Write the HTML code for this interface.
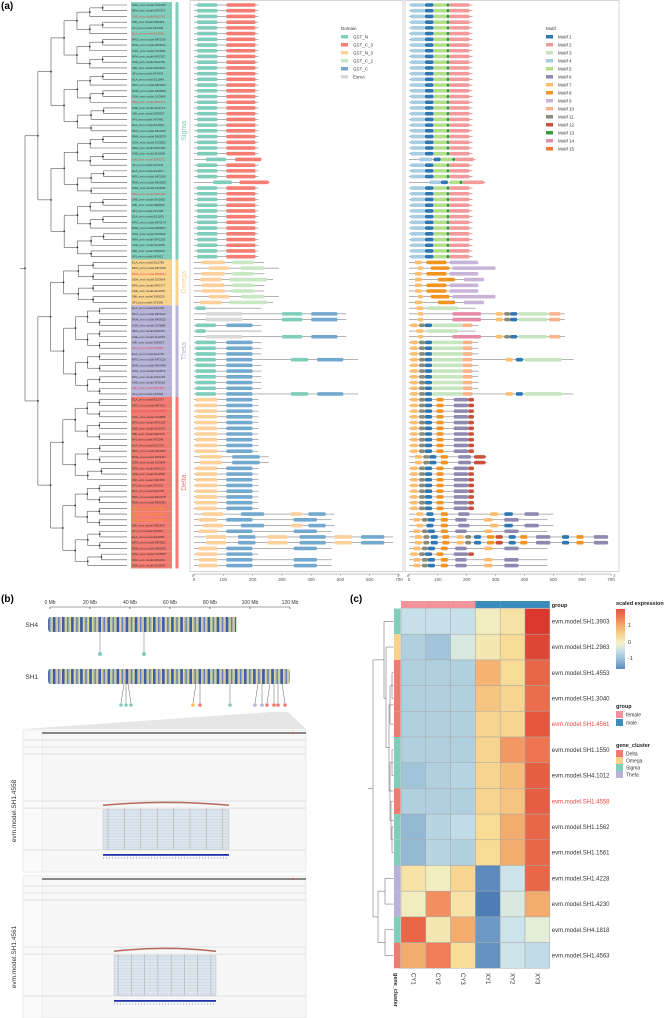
<!DOCTYPE html>
<html><head><meta charset="utf-8"><style>
html,body{margin:0;padding:0;background:#fff}
svg{display:block;font-family:"Liberation Sans",sans-serif}
</style></head><body>
<svg id="fig" width="665" height="1018" viewBox="0 0 665 1018" xmlns="http://www.w3.org/2000/svg"></svg>
<script>
// ---------- Panel (a) data ----------
const cladeNames = ['Sigma','Omega','Theta','Delta'];
const cladeCounts = [45, 8, 16, 30];
const cladeColors = ['#7fcdbb','#f9d38b','#b7b3d8','#f27a70'];
const rowCodes = [].concat(
  Array(27).fill('S'),['S2'],Array(3).fill('S'),['S3'],Array(13).fill('S'),
  ['O','O2','O','O3','O','O','O2','O3'],
  ['T0','TE','TE','T','T0','TE','T','T','T','TL','T','T','T','T','T','TL'],
  Array(10).fill('D'),['D2','D2','D','D','D','D','D','D','D','D','DA','DB','DA','DB','DC','DC','DB','D','DB','DB']
);
const redRows = [2,5,17,27,33,47,60,67,71];
const orangeRows = [88,89,90];
const domainNames = ['GST_N','GST_C_3','GST_N_3','GST_C_2','GST_C','EsmA'];
const domainColors = ['#7fcdbb','#f57d74','#fdd09c','#c7e8c3','#74a9cf','#d9d9d9'];
const domainTpl = {
  S:[220,[0,10,80],[1,110,210]], S2:[230,[0,40,110],[1,140,230]], S3:[260,[0,65,130],[1,155,255]],
  O:[240,[2,25,105],[3,130,205]], O2:[290,[2,50,120],[3,160,240]], O3:[270,[2,20,95],[3,120,250]],
  T0:[230,[0,5,40]], TE:[520,[5,40,165],[0,300,370],[4,400,490]], T:[230,[0,5,75],[4,110,200]],
  TL:[560,[0,5,75],[4,110,200],[0,330,390],[4,420,510]],
  D:[220,[2,5,80],[4,110,200]], D2:[255,[2,20,95],[4,130,225]],
  DA:[480,[2,30,100],[4,160,240],[2,330,370],[4,390,450]],
  DB:[470,[2,15,80],[4,110,200],[4,340,420]],
  DC:[680,[2,40,110],[4,150,210],[2,250,320],[4,360,450],[2,480,540],[4,570,650]]
};
const motifNames = ['Motif 1','Motif 2','Motif 3','Motif 4','Motif 5','Motif 6','Motif 7','Motif 8','Motif 9','Motif 10','Motif 11','Motif 12','Motif 13','Motif 14','Motif 15'];
const motifColors = ['#2f78b4','#f59a9b','#c6e6c0','#a6cde3','#b2df8a','#8e89b0','#fdbf6f','#f39320','#c9b3d8','#fbb48a','#8a8a78','#c6513c','#3b9a3b','#e78aa6','#f77a2a'];
// motif numbers are 1-based
const motifTpl = {
  S:[220,[4,5,55],[1,55,85],[5,85,130],[13,130,140],[2,140,210]],
  S2:[230,[4,35,80],[1,85,110],[5,110,150],[13,150,160],[2,160,225]],
  S3:[265,[4,70,110],[1,110,135],[5,140,175],[13,175,185],[2,185,260]],
  O:[240,[7,20,45],[8,60,130],[9,140,240]], O2:[300,[7,30,50],[8,75,140],[9,150,300]], O3:[260,[7,20,45],[8,100,160],[9,190,260]],
  T0:[230,[7,25,50],[3,60,170]], TE:[540,[7,30,50],[14,150,250],[7,300,325],[11,330,350],[1,350,375],[3,380,480],[10,485,525]],
  T:[240,[7,5,30],[11,35,55],[1,55,80],[3,80,185],[10,185,220]],
  TL:[570,[7,5,30],[11,35,55],[1,55,80],[3,80,185],[10,185,220],[7,335,360],[1,370,395],[3,400,530]],
  D:[225,[7,5,30],[11,35,55],[1,55,80],[8,95,120],[6,155,205],[12,205,225]],
  D2:[270,[7,20,45],[11,50,70],[1,70,95],[8,110,135],[6,170,215],[12,225,265]],
  DA:[500,[7,25,50],[1,60,85],[8,110,135],[6,170,210],[7,280,310],[1,330,360],[6,400,450]],
  DB:[480,[7,15,40],[11,45,65],[1,65,90],[8,110,135],[6,160,200],[7,260,290],[6,330,380]],
  DC:[690,[7,20,45],[11,50,70],[1,75,100],[8,115,140],[7,165,190],[11,195,215],[1,225,250],[8,270,295],[12,300,325],[1,345,370],[8,385,410],[6,440,490],[1,530,555],[8,580,605],[6,640,690]]
};

// ---------- Panel (c) data ----------
const hmCols = ['CY1','CY2','CY3','XY1','XY2','XY3'];
const hmGroups = ['female','female','female','male','male','male'];
const hmRows = ['evm.model.SH1.3903','evm.model.SH1.2963','evm.model.SH1.4553','evm.model.SH1.3040','evm.model.SH1.4561','evm.model.SH1.1550','evm.model.SH4.1012','evm.model.SH1.4558','evm.model.SH1.1562','evm.model.SH1.1561','evm.model.SH1.4228','evm.model.SH1.4230','evm.model.SH4.1818','evm.model.SH1.4563'];
const hmCluster = ['Sigma','Omega','Delta','Delta','Delta','Sigma','Sigma','Delta','Sigma','Sigma','Theta','Theta','Sigma','Delta'];
const hmRed = [4,7];
const hmValues = [
  [-0.4,-0.4,-0.4,0.1,0.3,2.4],
  [-0.8,-0.9,-0.2,0.2,0.4,2.2],
  [-0.8,-0.8,-0.8,0.9,0.4,1.8],
  [-0.8,-0.8,-0.8,0.7,0.5,1.7],
  [-0.8,-0.8,-0.8,0.5,0.5,2.0],
  [-0.8,-0.8,-0.8,0.5,1.2,1.6],
  [-0.9,-0.8,-0.7,0.5,0.8,1.9],
  [-0.8,-0.8,-0.8,0.5,0.7,1.9],
  [-1.0,-0.7,-0.5,0.4,1.0,1.8],
  [-1.0,-0.7,-0.8,0.4,1.0,1.8],
  [0.3,0.1,0.5,-1.5,-0.3,1.8],
  [0.1,1.3,0.3,-1.7,-0.2,1.0],
  [1.8,0.2,1.0,-1.3,-0.3,-0.1],
  [1.0,1.5,0.4,-1.4,-0.3,-0.5]
];
const clusterLegend = ['Delta','Omega','Sigma','Theta'];
const clusterLegendColors = ['#f27a70','#f9d38b','#7fcdbb','#b7b3d8'];

// ---------- Panel (b) data ----------
const mbTicks = [0,20,40,60,80,100,120];
const sh4Hits = [25,47];
const sh1Hits = [37,38,39,73,75,90,104,106,110,112,114,116];
const sh1HitColors = ['#7fcdbb','#7fcdbb','#7fcdbb','#f9c35b','#f27a70','#7fcdbb','#b7b3d8','#b7b3d8','#f27a70','#f27a70','#f27a70','#f27a70'];

const NS='http://www.w3.org/2000/svg';
const svg=document.getElementById('fig');
function mk(tag,attrs,parent){const e=document.createElementNS(NS,tag);for(const k in attrs)e.setAttribute(k,attrs[k]);(parent||svg).appendChild(e);return e;}
function txt(s,attrs,parent){const e=mk('text',attrs,parent);e.textContent=s;return e;}

// ======== PANEL A ========
const gA=mk('g',{});


const la=txt('(a)',{x:1,y:9,'font-size':10,'font-weight':'bold'},gA);


const N=rowCodes.length;
const rowY=i=>5+i*5.72;
const cladeOf=[];cladeCounts.forEach((c,ci)=>{for(let k=0;k<c;k++)cladeOf.push(ci);});

const gT=mk('g',{stroke:'#555','stroke-width':0.6,fill:'none'},gA);


const leafX=127;
function build(lo,hi,x){
  if(lo===hi){return rowY(lo);}
  const n=hi-lo+1;
  let mid=Math.floor((lo+hi)/2);
  const bounds=[44,52,68];
  for(const b of bounds){if(b>=lo&&b<hi&&Math.abs(b-mid)<n*0.35){mid=b;break;}}
  const step=Math.max(3,(leafX-x)/(Math.log2(n)+1.3));
  const cx=x+step;
  const y1=build(lo,mid,lo===mid?leafX:cx);
  const y2=build(mid+1,hi,mid+1===hi?leafX:cx);
  mk('line',{x1:x,x2:x,y1:y1,y2:y2},gT);
  mk('line',{x1:x,x2:(lo===mid?leafX:cx),y1:y1,y2:y1},gT);
  mk('line',{x1:x,x2:(mid+1===hi?leafX:cx),y1:y2,y2:y2},gT);
  mk('circle',{cx:x,cy:(y1+y2)/2,r:0.9,fill:'#222',stroke:'none'},gT);
  return (y1+y2)/2;
}
const rootY=build(0,N-1,25);
mk('line',{x1:20,x2:25,y1:rootY,y2:rootY},gT);

for(let i=0;i<N;i++){
  const c=cladeOf[i];
  const r=mk('rect',{x:131,y:rowY(i)-2.86,width:41,height:5.72,fill:cladeColors[c]},gA);
  
  
  const col=redRows.includes(i)?'#e8473f':orangeRows.includes(i)?'#f7a800':'#333';
  const pre=['SOH','MFA','SHE','SMI','AFI','ELA','MFO','RMA'][i%8];
  const t=txt(pre+'_evm.model.'+pre.slice(0,2)+(1000+(i*373)%3000),{x:132,y:rowY(i)+1,'font-size':2.9,fill:col},gA);
  
  
}
let start=0;
cladeCounts.forEach((c,ci)=>{
  const y0=rowY(start)-2.86,h=c*5.72;
  const b=mk('rect',{x:175.5,y:y0,width:3,height:h,fill:cladeColors[ci]},gA);
  
  
  const cy=y0+h/2;
  const t=txt(cladeNames[ci],{x:0,y:0,'font-size':7,fill:cladeColors[ci],transform:`translate(186,${cy}) rotate(-90)`,'text-anchor':'middle'},gA);
  
  
  start+=c;
});

function structPanel(name,x0,x1,ax0,ax1,tpls,colors,legendNames,legendX,idxOffset){
  const g=mk('g',{},gA);
  
  
  const fr=mk('rect',{x:x0,y:0.5,width:x1-x0,height:571,fill:'none',stroke:'#ccc','stroke-width':0.8},g);
  
  
  const sx=v=>ax0+v*(ax1-ax0)/700;
  for(let i=0;i<N;i++){
    const t=tpls[rowCodes[i]];const y=rowY(i);
    mk('line',{x1:sx(0),x2:sx(t[0]),y1:y,y2:y,stroke:'#666','stroke-width':0.5},g);
    for(let k=1;k<t.length;k++){
      const [d,a,b]=t[k];
      const r=mk('rect',{x:sx(a),y:y-1.8,width:sx(b)-sx(a),height:3.6,rx:1.5,fill:colors[d-idxOffset]},g);
      
      
    }
  }
  mk('line',{x1:sx(0),x2:sx(700),y1:574,y2:574,stroke:'#888','stroke-width':0.5},g);
  for(let v=0;v<=700;v+=100){
    mk('line',{x1:sx(v),x2:sx(v),y1:574,y2:576,stroke:'#888','stroke-width':0.5},g);
    const tl=txt(String(v),{x:sx(v),y:581,'font-size':4.5,'text-anchor':'middle',fill:'#555'},g);
    
    
  }
  txt("5'",{x:x0+2,y:577,'font-size':3.5,fill:'#555'},g);
  txt("3'",{x:x1-6,y:577,'font-size':3.5,fill:'#555'},g);
  const lg=mk('g',{},g);
  
  
  txt(name==='domain-panel'?'Domain':'Motif',{x:legendX,y:30,'font-size':4.5,fill:'#333'},lg);
  legendNames.forEach((n,k)=>{
    const yy=35+k*8;
    const sw=mk('rect',{x:legendX,y:yy,width:7,height:3.5,fill:colors[k]},lg);
    
    
    const lt=txt(n,{x:legendX+12,y:yy+3.3,'font-size':4.5,fill:'#333'},lg);
    
    
  });
}
structPanel('domain-panel',190,403,194,399,domainTpl,domainColors,domainNames,341,0);
structPanel('motif-panel',405,619,409,611,motifTpl,motifColors,motifNames,546,1);

// ======== PANEL B ========
const gB=mk('g',{});


const lb=txt('(b)',{x:1,y:602,'font-size':10,'font-weight':'bold'},gB);


const mbx=v=>50+v*2;
mk('line',{x1:mbx(0),x2:mbx(120),y1:607,y2:607,stroke:'#444','stroke-width':0.6},gB);
mbTicks.forEach(v=>{
  mk('line',{x1:mbx(v),x2:mbx(v),y1:607,y2:609,stroke:'#444','stroke-width':0.6},gB);
  const t=txt(v+' Mb',{x:mbx(v),y:604,'font-size':5,'text-anchor':'middle',fill:'#333'},gB);
  
  
});
function chrom(name,y,len){
  const g=mk('g',{},gB);
  
  
  mk('rect',{x:48,y:y,width:mbx(len)-48,height:15,rx:3,fill:'#4d6eae'},g);
  const pal=['#5b7fbf','#c9c9a0','#3c5ea5','#8fa7c9','#e2d7a0','#6f8cc0','#4466aa'];
  for(let k=0;k*1.3<mbx(len)-50;k++){
    mk('rect',{x:49+k*1.3,y:y,width:1.3,height:15,fill:pal[(k*7+k*k)%7]},g);
  }
  const t=txt(name,{x:38,y:y+10,'font-size':6.5,'text-anchor':'end',fill:'#333'},g);
  
  
}
chrom('SH4',617,93);
chrom('SH1',669,120);
sh4Hits.forEach(v=>{
  mk('line',{x1:mbx(v),x2:mbx(v),y1:632,y2:652,stroke:'#888','stroke-width':0.6},gB);
  const c=mk('circle',{cx:mbx(v),cy:654,r:2,fill:'#7fcdbb'},gB);
  
  
});
sh1Hits.forEach((v,k)=>{
  const cx=mbx(v)+((k===0||k===3||k===6||k===8)?-3:(k===2||k===11)?3:0);
  mk('line',{x1:mbx(v),x2:cx,y1:684,y2:703,stroke:'#666','stroke-width':0.5},gB);
  const c=mk('circle',{cx:cx,cy:705,r:1.8,fill:sh1HitColors[k]},gB);
  
  
});
mk('polygon',{points:'23,729 306,729 288,712 272,712',fill:'#e6e6e6'},gB);
function igv(y0,h,label,blockX0,blockX1){
  const g=mk('g',{},gB);
  
  
  mk('rect',{x:23,y:y0,width:283,height:h,fill:'#f7f7f7',stroke:'#ddd','stroke-width':0.5},g);
  mk('rect',{x:23,y:y0,width:19,height:h,fill:'#fafafa',stroke:'#ddd','stroke-width':0.4},g);
  mk('rect',{x:42,y:y0+2,width:264,height:2,fill:'#888'},g);
  mk('circle',{cx:293,cy:y0+3,r:0.8,fill:'#e33'},g);
  [y0+10,y0+17,y0+24,y0+h*0.5,y0+h*0.55,y0+h-22].forEach(yy=>mk('line',{x1:23,x2:306,y1:yy,y2:yy,stroke:'#ccc','stroke-width':0.5},g));
  mk('path',{d:`M${blockX0},${y0+h*0.53} Q${(blockX0+blockX1)/2},${y0+h*0.49} ${blockX1},${y0+h*0.53}`,stroke:'#b5695a','stroke-width':1.5,fill:'none'},g);
  const rb=mk('rect',{x:blockX0,y:y0+h*0.56,width:blockX1-blockX0,height:h*0.28,fill:'#dde6ee',stroke:'#aab','stroke-width':0.3},g);
  
  
  for(let k=0;k<14;k++){mk('line',{x1:blockX0,x2:blockX1,y1:y0+h*0.57+k*h*0.02,y2:y0+h*0.57+k*h*0.02,stroke:'#b8c8d8','stroke-width':0.3},g);}
  for(let k=0;k<8;k++){const xx=blockX0+(blockX1-blockX0)*(k*0.13+0.04);mk('line',{x1:xx,x2:xx,y1:y0+h*0.55,y2:y0+h*0.84,stroke:'#999','stroke-width':0.4},g);}
  mk('rect',{x:blockX0,y:y0+h-18,width:blockX1-blockX0,height:1.8,fill:'#2233aa'},g);
  mk('line',{x1:blockX0,x2:blockX1,y1:y0+h-14,y2:y0+h-14,stroke:'#2233aa','stroke-width':0.5,'stroke-dasharray':'1,2'},g);
  const t=txt(label,{x:0,y:0,'font-size':6.5,fill:'#333','text-anchor':'middle',transform:`translate(16,${y0+h/2+10}) rotate(-90)`},g);
  
  
}
igv(730,142,'evm.model.SH1.4558',103,229);
igv(876,142,'evm.model.SH1.4561',114,216);

// ======== PANEL C ========
const gC=mk('g',{});


const lc=txt('(c)',{x:350,y:602,'font-size':10,'font-weight':'bold'},gC);


const hx0=401,cw=24.8,hy0=608.5,rh=25.7;
const stops=[[-1.8,[69,117,180]],[-1.2,[116,160,200]],[-0.8,[176,208,224]],[-0.3,[205,228,235]],[0,[240,242,205]],[0.4,[248,220,150]],[0.9,[245,180,115]],[1.5,[240,125,85]],[2.5,[215,48,39]]];
function colorOf(v){
  if(v<=stops[0][0])return `rgb(${stops[0][1]})`;
  for(let k=1;k<stops.length;k++){if(v<=stops[k][0]){const [a,ca]=stops[k-1],[b,cb]=stops[k];const t=(v-a)/(b-a);return 'rgb('+ca.map((c,j)=>Math.round(c+(cb[j]-c)*t)).join(',')+')';}}
  return `rgb(${stops[stops.length-1][1]})`;
}
hmCols.forEach((c,j)=>{
  const r=mk('rect',{x:hx0+j*cw,y:601,width:cw,height:7,fill:hmGroups[j]==='female'?'#f0939b':'#3b8bbb'},gC);
  
  
  const t=txt(c,{x:0,y:0,'font-size':6,fill:'#333',transform:`translate(${hx0+j*cw+cw/2-2},${973}) rotate(90)`},gC);
  
  
});
const gl=txt('group',{x:hx0+6*cw+2,y:607,'font-size':5.5,'font-weight':'bold',fill:'#222'},gC);


hmRows.forEach((name,i)=>{
  const y=hy0+i*rh;
  const cl=mk('rect',{x:394,y:y,width:6.5,height:rh,fill:clusterLegendColors[clusterLegend.indexOf(hmCluster[i])]},gC);
  
  
  hmValues[i].forEach((v,j)=>{
    const c=mk('rect',{x:hx0+j*cw,y:y,width:cw,height:rh,fill:colorOf(v),stroke:'#a9a9a9','stroke-width':0.5},gC);
    
    
  });
  const t=txt(name,{x:hx0+6*cw+2,y:y+rh/2+2,'font-size':6,fill:hmRed.includes(i)?'#e8473f':'#333'},gC);
  
  
});
const gcl=txt('gene_cluster',{x:0,y:0,'font-size':5.5,'font-weight':'bold',fill:'#222',transform:`translate(394,973) rotate(90)`},gC);


const gD=mk('g',{stroke:'#777','stroke-width':0.6,fill:'none'},gC);


const ry=i=>hy0+i*rh+rh/2;
function seg(x1,y1,x2,y2){mk('line',{x1,y1,x2,y2},gD);}
[[2,3,392],[5,6,392],[8,9,392],[7,8.5,391],[4,2.5,390],[5.5,7.75,390],[3.25,6.6,389]].forEach(([a,b,x])=>{
  const ya=hy0+a*rh+rh/2,yb=hy0+b*rh+rh/2;seg(x,ya,x,yb);seg(x,ya,393.5,ya);seg(x,yb,393.5,yb);
});
seg(386,ry(1),386,ry(4.9));seg(386,ry(4.9),389,ry(4.9));seg(386,ry(1),393.5,ry(1));
seg(384,ry(0),384,ry(3));seg(384,ry(0),393.5,ry(0));seg(384,ry(3),386,ry(3));
seg(384,ry(1.5),373,ry(1.5));
seg(385,ry(10),385,ry(11));seg(385,ry(10),393.5,ry(10));seg(385,ry(11),393.5,ry(11));
seg(385,ry(12),385,ry(13));seg(385,ry(12),393.5,ry(12));seg(385,ry(13),393.5,ry(13));
seg(378,ry(10.5),378,ry(12.5));seg(378,ry(10.5),385,ry(10.5));seg(378,ry(12.5),385,ry(12.5));
seg(373,ry(1.5),373,ry(11.5));seg(373,ry(11.5),378,ry(11.5));seg(368,ry(6.5),373,ry(6.5));
const gL=mk('g',{},gC);


txt('scaled expression',{x:616,y:605,'font-size':5.5,'font-weight':'bold',fill:'#222'},gL);
const defs=mk('defs',{},svg);
const lgd=mk('linearGradient',{id:'scl',x1:0,y1:1,x2:0,y2:0},defs);
[-1.5,-1,-0.5,0,0.5,1,1.5,2].forEach((v,k)=>mk('stop',{offset:(k/7),'stop-color':colorOf(v)},lgd));
const cb=mk('rect',{x:616,y:609,width:9,height:60,fill:'url(#scl)'},gL);


[['1',627],['0',644],['-1',660]].forEach(([s,y])=>txt(s,{x:628,y:y,'font-size':5.5,fill:'#333'},gL));
txt('group',{x:616,y:708,'font-size':5.5,'font-weight':'bold',fill:'#222'},gL);
[['female','#f0939b'],['male','#3b8bbb']].forEach(([s,c],k)=>{
  mk('rect',{x:616,y:711+k*8,width:7,height:7,fill:c},gL);
  const t=txt(s,{x:626,y:716.5+k*8,'font-size':5,fill:'#333'},gL);
  
  
});
txt('gene_cluster',{x:616,y:747,'font-size':5.5,'font-weight':'bold',fill:'#222'},gL);
clusterLegend.forEach((s,k)=>{
  mk('rect',{x:616,y:750+k*7,width:7,height:7,fill:clusterLegendColors[k]},gL);
  const t=txt(s,{x:626,y:755.5+k*7,'font-size':5,fill:'#333'},gL);
  
  
});
</script>
</body></html>
